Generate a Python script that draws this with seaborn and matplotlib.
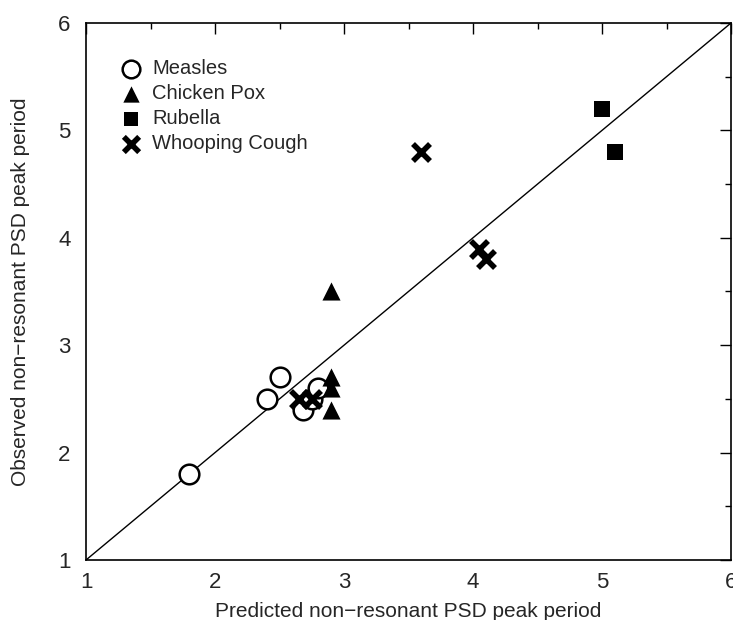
import matplotlib
matplotlib.use("Agg")
import matplotlib.pyplot as plt
from matplotlib.ticker import MultipleLocator
import seaborn as sns
import pandas as pd

# Predicted vs observed non-resonant PSD peak periods
measles_pred = [1.8, 2.4, 2.5, 2.68, 2.75, 2.8]
measles_obs = [1.8, 2.5, 2.7, 2.4, 2.5, 2.6]
chickenpox_pred = [2.9, 2.9, 2.9, 2.9]
chickenpox_obs = [3.5, 2.7, 2.6, 2.4]
rubella_pred = [5.0, 5.1]
rubella_obs = [5.2, 4.8]
whooping_pred = [2.65, 2.75, 3.6, 4.05, 4.1]
whooping_obs = [2.5, 2.5, 4.8, 3.9, 3.8]

frames = [
    pd.DataFrame({"pred": measles_pred, "obs": measles_obs, "disease": "Measles"}),
    pd.DataFrame({"pred": chickenpox_pred, "obs": chickenpox_obs, "disease": "Chicken Pox"}),
    pd.DataFrame({"pred": rubella_pred, "obs": rubella_obs, "disease": "Rubella"}),
    pd.DataFrame({"pred": whooping_pred, "obs": whooping_obs, "disease": "Whooping Cough"}),
]

sns.set_style("white")
plt.rcParams["font.family"] = ["Liberation Sans", "DejaVu Sans"]

fig = plt.figure(figsize=(7.33, 6.2), dpi=100)
ax = fig.add_axes([86 / 733, 60 / 620, 645 / 733, 537 / 620])

# identity line
ax.plot([1, 6], [1, 6], color="black", lw=1.0, zorder=1)

styles = {
    "Measles": dict(marker="o", s=200, facecolor="white", edgecolor="black", linewidth=1.8),
    "Chicken Pox": dict(marker="^", s=170, color="black", edgecolor="black", linewidth=0),
    "Rubella": dict(marker="s", s=130, color="black", edgecolor="black", linewidth=0),
    "Whooping Cough": dict(marker="x", s=150, color="black", linewidth=4),
}
for df in frames:
    name = df["disease"].iloc[0]
    sns.scatterplot(data=df, x="pred", y="obs", ax=ax, label=name, zorder=3, **styles[name])

ax.set_xlim(1, 6)
ax.set_ylim(1, 6)
ax.xaxis.set_major_locator(MultipleLocator(1))
ax.yaxis.set_major_locator(MultipleLocator(1))
ax.xaxis.set_minor_locator(MultipleLocator(0.5))
ax.yaxis.set_minor_locator(MultipleLocator(0.5))
ax.tick_params(which="both", direction="in", top=True, right=True, color="black")
ax.tick_params(which="major", length=8, width=1, labelsize=16)
ax.tick_params(axis="x", which="major", pad=9)
ax.tick_params(axis="y", which="major", pad=11)
ax.tick_params(which="minor", length=4, width=1)
for sp in ax.spines.values():
    sp.set_color("black")
    sp.set_linewidth(1.2)

ax.set_xlabel("Predicted non\u2212resonant PSD peak period", fontsize=15, labelpad=6)
ax.set_ylabel("Observed non\u2212resonant PSD peak period", fontsize=15, labelpad=20)

leg = ax.legend(loc="upper left", bbox_to_anchor=(0.039, 0.948), frameon=False,
                fontsize=14.5, handletextpad=0.45, labelspacing=0.3, borderaxespad=0,
                handlelength=1.2, markerscale=0.9)

fig.savefig("out.png", dpi=100)
